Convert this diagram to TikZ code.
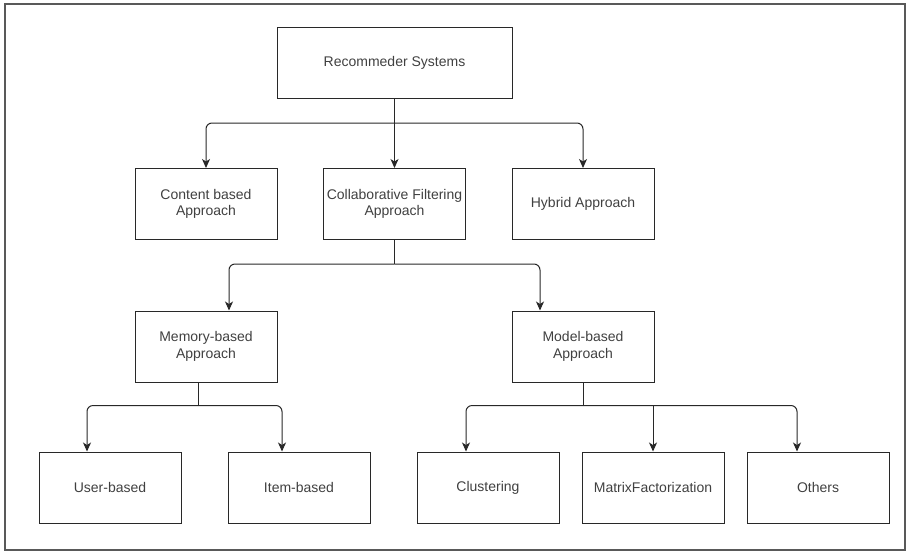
\documentclass[tikz,border=0pt]{standalone}
\usepackage{fontspec}
\setmainfont{Liberation Sans}
\usepackage{xcolor}
\usetikzlibrary{arrows.meta}
\definecolor{txtgray}{RGB}{64,64,64}
\definecolor{linegray}{RGB}{40,40,40}

\begin{document}
\begin{tikzpicture}[x=1pt,y=-1pt,
  box/.style={draw=linegray, line width=1pt, minimum width=142pt, minimum height=71pt,
    inner sep=0pt, align=center, text=txtgray, font=\fontsize{14}{16.5}\selectfont},
  stem/.style={draw=linegray, line width=1pt},
  arr/.style={stem, rounded corners=6pt,
    -{Stealth[length=9pt,width=8pt,inset=2.5pt]}}]
  \useasboundingbox (0,0) rectangle (907,552);
  \draw[gray!70!black, line width=1.2pt] (5,4) rectangle (905,550);

\node[box, minimum width=235pt] (sys) at (394.5,63) {Recommeder Systems};

\node[box] (content) at (206,204) {Content based\\Approach};
\node[box] (collab) at (394.5,204) {Collaborative Filtering\\Approach};
\node[box] (hybrid) at (583,204) {Hybrid Approach};

\node[box] (memory) at (206,346.5) {Memory-based\\Approach};
\node[box] (model) at (583,346.5) {Model-based\\Approach};

\node[box] (user) at (110,487.5) {User-based};
\node[box] (item) at (299,487.5) {Item-based};
\node[box] (clust) at (488,487.5) {Clustering};
\node[box] (matrix) at (653,487.5) {MatrixFactorization};
\node[box] (others) at (818,487.5) {Others};

% junctions on the buses
\path (sys.south) ++(0,24) coordinate (bus1);
\path (collab.south) ++(0,24) coordinate (bus2);
\path ([xshift=-8]memory.south) ++(0,23) coordinate (bus3);
\path (model.south) ++(0,23) coordinate (bus4);

\draw[arr] (sys.south) -- (collab.north);
\draw[arr] (bus1) -| (content.north);
\draw[arr] (bus1) -| (hybrid.north);

\draw[stem] (collab.south) -- (bus2);
\draw[arr] (bus2) -| ([xshift=23]memory.north);
\draw[arr] (bus2) -| ([xshift=-43]model.north);

\draw[stem] ([xshift=-8]memory.south) -- (bus3);
\draw[arr] (bus3) -| ([xshift=-23]user.north);
\draw[arr] (bus3) -| ([xshift=-17]item.north);

\draw[stem] (model.south) -- (bus4);
\draw[arr] (bus4) -| ([xshift=-22]clust.north);
\draw[arr, sharp corners] (bus4) -| (matrix.north);
\draw[arr] (bus4) -| ([xshift=-21]others.north);
\end{tikzpicture}
\end{document}
